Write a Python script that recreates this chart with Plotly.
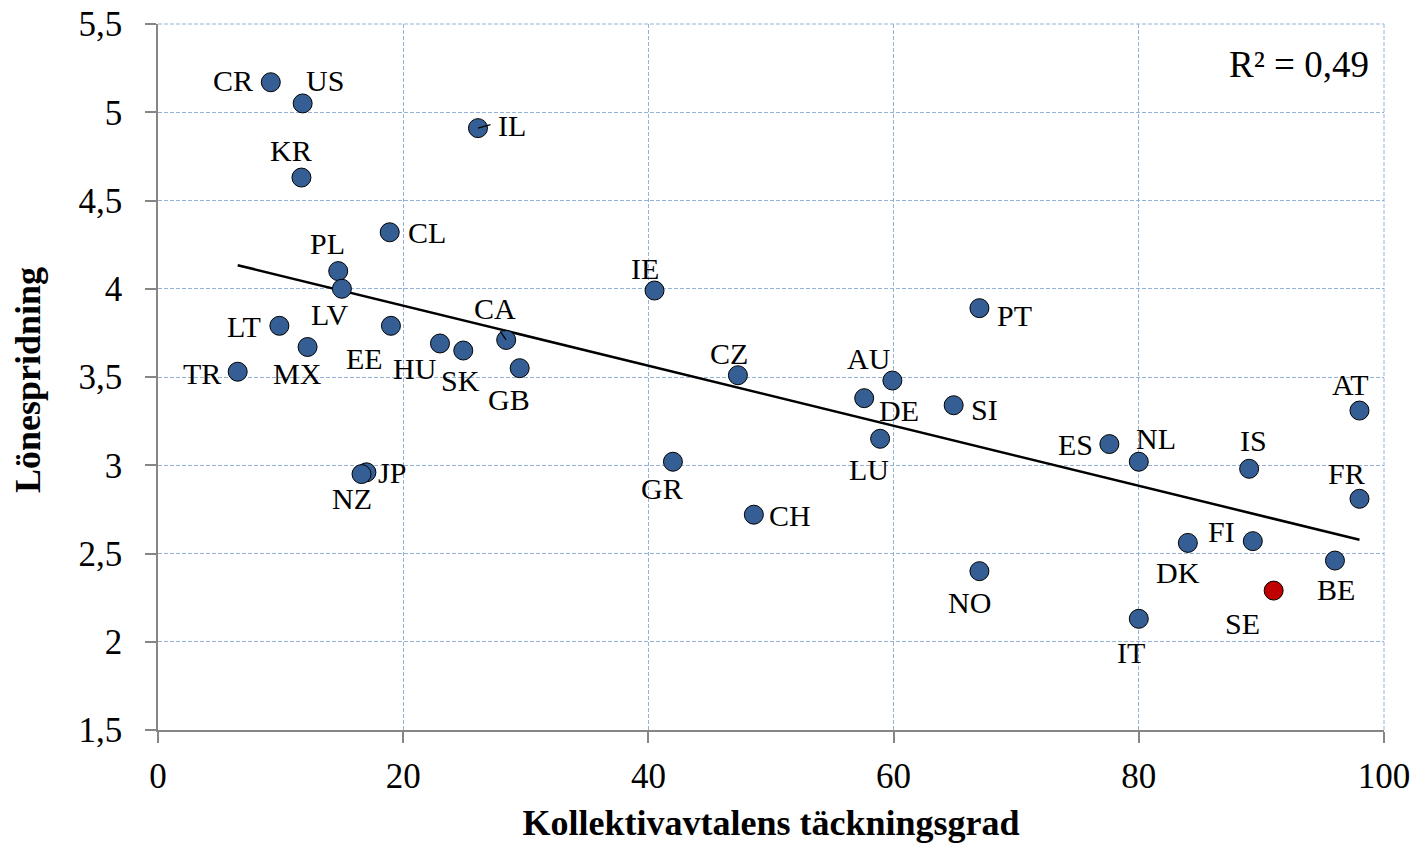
import numpy as np
import plotly.graph_objects as go

# ---- data ----
countries = ["CR", "US", "KR", "IL", "CL", "PL", "LV", "LT", "MX", "TR", "EE", "HU", "SK",
             "CA", "GB", "JP", "NZ", "IE", "GR", "CZ", "CH", "AU", "DE", "LU", "SI", "PT",
             "NO", "ES", "NL", "IT", "DK", "IS", "FI", "SE", "BE", "AT", "FR"]
coverage = [9.2, 11.8, 11.7, 26.1, 18.9, 14.7, 15.0, 9.9, 12.2, 6.5, 19.0, 23.0, 24.9,
            28.4, 29.5, 17.0, 16.6, 40.5, 42.0, 47.3, 48.6, 59.9, 57.6, 58.9, 64.9, 67.0,
            67.0, 77.6, 80.0, 80.0, 84.0, 89.0, 89.3, 91.0, 96.0, 98.0, 98.0]
dispersion = [5.17, 5.05, 4.63, 4.91, 4.32, 4.10, 4.00, 3.79, 3.67, 3.53, 3.79, 3.69, 3.65,
              3.71, 3.55, 2.96, 2.95, 3.99, 3.02, 3.51, 2.72, 3.48, 3.38, 3.15, 3.34, 3.89,
              2.40, 3.12, 3.02, 2.13, 2.56, 2.98, 2.57, 2.29, 2.46, 3.31, 2.81]
highlight = "SE"
r2_text = "R² = 0,49"
x_title = "Kollektivavtalens täckningsgrad"
y_title = "Lönespridning"
x_ticks = [0, 20, 40, 60, 80, 100]
y_ticks = [1.5, 2, 2.5, 3, 3.5, 4, 4.5, 5, 5.5]
y_ticktext = ["1,5", "2", "2,5", "3", "3,5", "4", "4,5", "5", "5,5"]

# label offsets in pixels (dx right, dy up) - styling only
label_offsets = {
    "CR": (-38, 2), "US": (22, 23), "KR": (-10, 27), "IL": (34, 3), "CL": (37, 0),
    "PL": (-11, 28), "LV": (-12, -26), "LT": (-35, -1), "MX": (-10, -26), "TR": (-36, -2),
    "EE": (-26, -33), "HU": (-25, -25), "SK": (-3, -30), "CA": (-11, 31), "GB": (-11, -31),
    "JP": (26, 0), "NZ": (-10, -24), "IE": (-10, 22), "GR": (-11, -27), "CZ": (-9, 22),
    "CH": (36, -1), "AU": (-23, 22), "DE": (35, -12), "LU": (-11, -31), "SI": (31, -4),
    "PT": (35, -7), "NO": (-10, -31), "ES": (-34, 0), "NL": (17, 23), "IT": (-8, -34),
    "DK": (-10, -30), "IS": (4, 28), "FI": (-31, 10), "SE": (-31, -33), "BE": (1, -29),
    "AT": (-9, 26), "FR": (-13, 25),
}
leaders = {"IL": (14, -4), "CA": (-7, -10)}

FONT = "Liberation Serif"
BLUE = "#355F94"
RED = "#C00000"
GRID = "#95B3D7"
AXIS = "#868686"

x = np.array(coverage)
y = np.array(dispersion)
slope, intercept = np.polyfit(x, y, 1)
xl = np.array([x.min(), x.max()])
yl = slope * xl + intercept

fig = go.Figure()
fig.add_trace(go.Scatter(x=xl, y=yl, mode="lines",
                         line=dict(color="black", width=2.5), hoverinfo="skip"))
colors = [RED if c == highlight else BLUE for c in countries]
fig.add_trace(go.Scatter(x=coverage, y=dispersion, mode="markers", text=countries,
                         marker=dict(size=19, color=colors,
                                     line=dict(color="black", width=1))))

for c, xv, yv in zip(countries, coverage, dispersion):
    dx, dy = label_offsets[c]
    fig.add_annotation(x=xv, y=yv, text=c, showarrow=False, xshift=dx, yshift=dy,
                       font=dict(family=FONT, size=30, color="black"))
for c, (ax, ay) in leaders.items():
    i = countries.index(c)
    fig.add_annotation(x=coverage[i], y=dispersion[i], text="", showarrow=True,
                       arrowhead=0, arrowwidth=1.2, arrowcolor="black",
                       ax=ax, ay=ay, standoff=0, startstandoff=0)

fig.add_annotation(xref="paper", yref="paper", x=1, y=1, xanchor="right", yanchor="middle",
                   xshift=-13, yshift=-40, text=r2_text, showarrow=False,
                   font=dict(family=FONT, size=37, color="black"))

# y-axis title as a rotated annotation, placed left of the tick labels
fig.add_annotation(xref="paper", yref="paper", x=0, y=0.5, xanchor="center",
                   yanchor="middle", xshift=-130, yshift=-3, textangle=-90,
                   text=f"<b>{y_title}</b>", showarrow=False,
                   font=dict(family=FONT, size=36, color="black"))

fig.update_layout(
    width=1416, height=843,
    margin=dict(l=158, r=32, t=24, b=113),
    plot_bgcolor="white", paper_bgcolor="white",
    showlegend=False,
    font=dict(family=FONT, color="black"),
)
fig.update_xaxes(range=[0, 100], tickvals=x_ticks, showgrid=True, automargin=False,
                 gridcolor=GRID, griddash="4px,2px", gridwidth=1,
                 showline=True, linecolor=AXIS, linewidth=1.5, zeroline=False,
                 ticks="outside", ticklen=11, tickcolor=AXIS, tickwidth=1.5,
                 ticklabelstandoff=3, ticklabeloverflow="allow",
                 tickfont=dict(family=FONT, size=35, color="black"),
                 title=dict(text=f"<b>{x_title}</b>", standoff=15,
                            font=dict(family=FONT, size=36, color="black")))
fig.update_yaxes(range=[1.5, 5.5], tickvals=y_ticks, ticktext=y_ticktext, showgrid=True,
                 automargin=False,
                 gridcolor=GRID, griddash="4px,2px", gridwidth=1,
                 showline=True, linecolor=AXIS, linewidth=1.5, zeroline=False,
                 ticks="outside", ticklen=11, tickcolor=AXIS, tickwidth=1.5,
                 ticklabelstandoff=16, ticklabeloverflow="allow",
                 tickfont=dict(family=FONT, size=35, color="black"))
# right and top dashed border lines
fig.add_shape(type="line", xref="paper", yref="paper", x0=1, x1=1, y0=0, y1=1,
              line=dict(color=GRID, width=1, dash="4px,2px"))
fig.add_shape(type="line", xref="paper", yref="paper", x0=0, x1=1, y0=1, y1=1,
              line=dict(color=GRID, width=1, dash="4px,2px"))

# remove the default page margin so the figure fills the window exactly
fig.write_html("out.html", config={"displayModeBar": False},
               post_script="document.body.style.margin='0';"
                           "document.body.style.overflow='hidden';")
